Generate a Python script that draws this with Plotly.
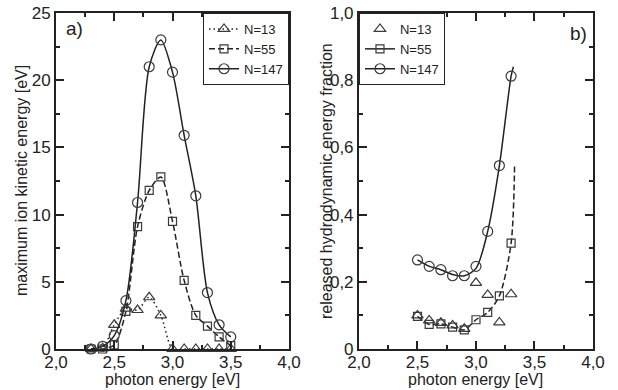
import plotly.graph_objects as go

# ---------------- data ----------------
photon_a = [2.3, 2.4, 2.5, 2.6, 2.7, 2.8, 2.9, 3.0, 3.1, 3.2, 3.3, 3.4, 3.5]
ekin_n13 = [0.0, 0.05, 1.8, 3.0, 2.9, 3.85, 2.5, 0.0, 0.0, 0.0, 0.0, 0.0, 0.0]
ekin_n55 = [0.0, 0.0, 0.3, 2.8, 9.1, 11.8, 12.8, 9.5, 5.1, 2.5, 1.7, 0.9, 0.25]
ekin_n147 = [0.0, 0.2, 1.0, 3.6, 10.9, 21.0, 23.0, 20.6, 15.9, 11.4, 4.2, 1.8, 0.9]

photon_b = [2.5, 2.6, 2.7, 2.8, 2.9, 3.0, 3.1, 3.2, 3.3]
frac_n13 = [0.100, 0.085, 0.078, 0.070, 0.060, 0.197, 0.161, 0.079, 0.163]
frac_n55 = [0.097, 0.073, 0.075, 0.065, 0.057, 0.087, 0.109, 0.158, 0.315]
frac_n147 = [0.265, 0.246, 0.236, 0.218, 0.218, 0.246, 0.350, 0.546, 0.812]

# fitted curves in panel b (extend past last point)
curve_b55_x = [2.5, 2.6, 2.7, 2.8, 2.9, 3.0, 3.1, 3.2, 3.3, 3.33]
curve_b55_y = [0.097, 0.073, 0.075, 0.065, 0.057, 0.087, 0.109, 0.158, 0.315, 0.55]
curve_b147_x = [2.5, 2.6, 2.7, 2.8, 2.9, 3.0, 3.1, 3.2, 3.3, 3.32]
curve_b147_y = [0.265, 0.246, 0.236, 0.222, 0.218, 0.240, 0.350, 0.546, 0.812, 0.84]

x_tickvals = [2.0, 2.5, 3.0, 3.5, 4.0]
x_ticktext = ["2,0", "2,5", "3,0", "3,5", "4,0"]
ya_tickvals = [0, 5, 10, 15, 20, 25]
ya_ticktext = ["0", "5", "10", "15", "20", "25"]
yb_tickvals = [0, 0.2, 0.4, 0.6, 0.8, 1.0]
yb_ticktext = ["0", "0,2", "0,4", "0,6", "0,8", "1,0"]

labels = ["N=13", "N=55", "N=147"]
x_title = "photon energy [eV]"
ya_title = "maximum ion kinetic energy [eV]"
yb_title = "released hydrodynamic energy fraction"

# ---------------- style ----------------
INK = "#222222"
MK = "#3a3a3a"
FONT = "Liberation Sans, Arial, sans-serif"
LW = 1.5

def mk(symbol, size):
    return dict(symbol=symbol, size=size, color=MK, line=dict(width=1.2, color=MK))

fig = go.Figure()

# Panel a
fig.add_trace(go.Scatter(
    x=photon_a, y=ekin_n13, mode="lines+markers", name=labels[0],
    line=dict(color=INK, width=LW, dash="1.5px,3px", shape="spline", smoothing=0.8),
    marker=mk("triangle-up-open", 10),
    xaxis="x", yaxis="y", cliponaxis=False, legend="legend"))
fig.add_trace(go.Scatter(
    x=photon_a, y=ekin_n55, mode="lines+markers", name=labels[1],
    line=dict(color=INK, width=LW, dash="6px,3px", shape="spline", smoothing=0.8),
    marker=mk("square-open", 8),
    xaxis="x", yaxis="y", cliponaxis=False, legend="legend"))
fig.add_trace(go.Scatter(
    x=photon_a, y=ekin_n147, mode="lines+markers", name=labels[2],
    line=dict(color=INK, width=LW, shape="spline", smoothing=0.8),
    marker=mk("circle-open", 10),
    xaxis="x", yaxis="y", cliponaxis=False, legend="legend"))

# Panel b curves
fig.add_trace(go.Scatter(
    x=curve_b55_x, y=curve_b55_y, mode="lines", showlegend=False,
    line=dict(color=INK, width=LW, dash="6px,3px", shape="spline", smoothing=0.8),
    xaxis="x2", yaxis="y2", hoverinfo="skip"))
fig.add_trace(go.Scatter(
    x=curve_b147_x, y=curve_b147_y, mode="lines", showlegend=False,
    line=dict(color=INK, width=LW, shape="spline", smoothing=0.8),
    xaxis="x2", yaxis="y2", hoverinfo="skip"))

# Panel b markers
fig.add_trace(go.Scatter(
    x=photon_b, y=frac_n13, mode="markers", name=labels[0],
    marker=mk("triangle-up-open", 10),
    xaxis="x2", yaxis="y2", cliponaxis=False, legend="legend2"))
fig.add_trace(go.Scatter(
    x=photon_b, y=frac_n55, mode="markers", name=labels[1], showlegend=False,
    marker=mk("square-open", 8),
    xaxis="x2", yaxis="y2", cliponaxis=False))
fig.add_trace(go.Scatter(
    x=photon_b, y=frac_n147, mode="markers", name=labels[2], showlegend=False,
    marker=mk("circle-open", 10),
    xaxis="x2", yaxis="y2", cliponaxis=False))
# legend-only entries (line + marker) for panel b
fig.add_trace(go.Scatter(
    x=[None], y=[None], mode="lines+markers", name=labels[1],
    line=dict(color=INK, width=LW), marker=mk("square-open", 8),
    xaxis="x2", yaxis="y2", legend="legend2"))
fig.add_trace(go.Scatter(
    x=[None], y=[None], mode="lines+markers", name=labels[2],
    line=dict(color=INK, width=LW), marker=mk("circle-open", 10),
    xaxis="x2", yaxis="y2", legend="legend2"))

dom_a = [0.0, 0.4339]
dom_b = [0.5642, 1.0]

def xaxis(domain, anchor):
    return dict(
        domain=domain, anchor=anchor, range=[2.0, 4.0], automargin=False,
        tickmode="array", tickvals=x_tickvals, ticktext=x_ticktext,
        ticks="inside", ticklen=8, tickwidth=1.5, tickcolor=INK,
        ticklabelstandoff=-3,
        minor=dict(ticks="inside", ticklen=4, tickwidth=1.5, tickcolor=INK, dtick=0.25, tick0=2.0),
        showline=True, linewidth=2, linecolor=INK, mirror="ticks",
        showgrid=False, zeroline=False,
        tickfont=dict(size=17, color=INK, family=FONT),
    )

def yaxis(rng, tv, tt, anchor, minor_dtick):
    return dict(
        range=rng, anchor=anchor, automargin=False,
        tickmode="array", tickvals=tv, ticktext=tt,
        ticks="inside", ticklen=8, tickwidth=1.5, tickcolor=INK,
        minor=dict(ticks="inside", ticklen=4, tickwidth=1.5, tickcolor=INK, dtick=minor_dtick, tick0=0),
        showline=True, linewidth=2, linecolor=INK, mirror="ticks",
        showgrid=False, zeroline=False,
        tickfont=dict(size=17, color=INK, family=FONT),
    )

legend_common = dict(
    bgcolor="white", bordercolor=INK, borderwidth=1,
    font=dict(size=13, color=INK, family=FONT),
    yanchor="top", y=1.0, tracegroupgap=0, itemwidth=30,
    xref="paper", yref="paper",
)

title_font = dict(size=16, color=INK, family=FONT)
annotations = []
for xr, yr in (("x domain", "y domain"), ("x2 domain", "y2 domain")):
    annotations.append(dict(text=x_title, xref=xr, yref=yr, x=0.5, y=0,
                            xanchor="center", yanchor="middle", yshift=-30,
                            showarrow=False, font=title_font))
annotations.append(dict(text=ya_title, xref="x domain", yref="y domain", x=0, y=0.5,
                        xanchor="center", yanchor="middle", xshift=-35, textangle=-90,
                        showarrow=False, font=title_font))
annotations.append(dict(text=yb_title, xref="x2 domain", yref="y2 domain", x=0, y=0.5,
                        xanchor="center", yanchor="middle", xshift=-33, textangle=-90,
                        showarrow=False, font=title_font))
annotations.append(dict(text="a)", xref="x domain", yref="y domain", x=0.035, y=0.99,
                        xanchor="left", yanchor="top", showarrow=False,
                        font=dict(size=19, color=INK, family=FONT)))
annotations.append(dict(text="b)", xref="x2 domain", yref="y2 domain", x=0.985, y=0.975,
                        xanchor="right", yanchor="top", showarrow=False,
                        font=dict(size=19, color=INK, family=FONT)))

fig.update_layout(
    width=618, height=390,
    margin=dict(l=56, r=25, t=13, b=41, autoexpand=False),
    paper_bgcolor="white", plot_bgcolor="white",
    font=dict(family=FONT, color=INK),
    xaxis=xaxis(dom_a, "y"),
    yaxis=yaxis([0, 25], ya_tickvals, ya_ticktext, "x", 2.5),
    xaxis2=xaxis(dom_b, "y2"),
    yaxis2=yaxis([0, 1.0], yb_tickvals, yb_ticktext, "x2", 0.1),
    legend=dict(**legend_common, x=dom_a[1], xanchor="right"),
    legend2=dict(**legend_common, x=dom_b[0], xanchor="left"),
    showlegend=True,
    annotations=annotations,
)

# remove the browser's default 8px body margin so the figure sits at the page origin
fig.write_html("out.html", config={"displayModeBar": False},
               post_script="document.body.style.margin='0px';")
